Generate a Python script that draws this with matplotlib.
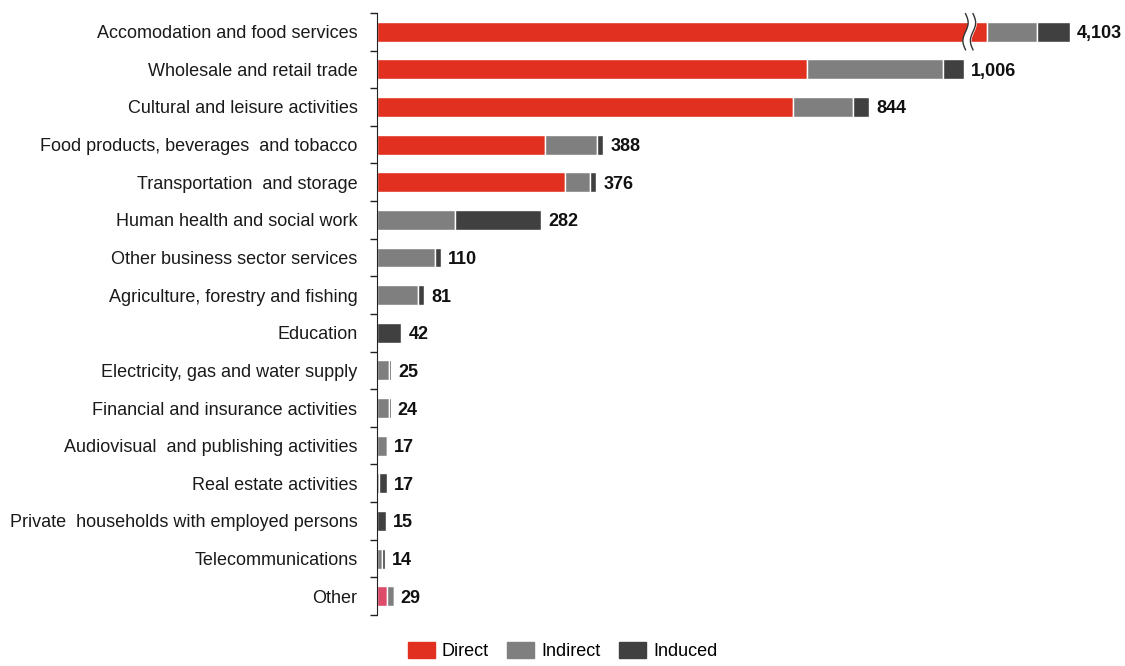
import numpy as np
import matplotlib
matplotlib.use("Agg")
import matplotlib.pyplot as plt
from matplotlib.patches import Patch
import matplotlib.transforms as mtransforms

plt.rcParams['font.family'] = ['Liberation Sans', 'DejaVu Sans']

sectors = ["Accomodation and food services", "Wholesale and retail trade",
           "Cultural and leisure activities", "Food products, beverages  and tobacco",
           "Transportation  and storage", "Human health and social work",
           "Other business sector services", "Agriculture, forestry and fishing",
           "Education", "Electricity, gas and water supply",
           "Financial and insurance activities", "Audiovisual  and publishing activities",
           "Real estate activities", "Private  households with employed persons",
           "Telecommunications", "Other"]
direct = [3960, 737, 713, 288, 322, 0, 0, 0, 0, 0, 0, 0, 0, 0, 0, 18]
indirect = [86, 233, 103, 89, 43, 134, 99, 70, 0, 21, 20, 17, 3, 0, 8, 11]
induced = [57, 36, 28, 11, 11, 148, 11, 11, 42, 4, 4, 0, 14, 15, 6, 0]

RED = '#e1301f'
PINK = '#de4a6a'
GRAY = '#7f7f7f'
DARK = '#404040'

# cut out the empty stretch of the axis so the first bar fits
gap_lo, gap_hi, squeeze = 1010.0, 3928.0, 1e-3
cut = (gap_hi - gap_lo) * (1 - squeeze)

def fwd(x):
    x = np.asarray(x, dtype=float)
    return np.where(x < gap_lo, x,
                    np.where(x > gap_hi, x - cut, gap_lo + (x - gap_lo) * squeeze))

def inv(x):
    x = np.asarray(x, dtype=float)
    top = gap_lo + (gap_hi - gap_lo) * squeeze
    return np.where(x < gap_lo, x,
                    np.where(x > top, x + cut, gap_lo + (x - gap_lo) / squeeze))

direct = np.array(direct)
indirect = np.array(indirect)
induced = np.array(induced)
totals = direct + indirect + induced
y = np.arange(len(sectors))

fig = plt.figure(figsize=(11.25, 6.66), dpi=100)
ax = fig.add_axes([0.335, 0.0766, 0.665, 0.904])
ax.set_xscale('function', functions=(fwd, inv))

dcolors = [RED] * (len(sectors) - 1) + [PINK]
kw = dict(height=0.53, edgecolor='white', linewidth=1)
ax.barh(y, direct, color=dcolors, **kw)
ax.barh(y, indirect, left=direct, color=GRAY, **kw)
ax.barh(y, induced, left=direct + indirect, color=DARK, **kw)

for i, t in enumerate(totals):
    ax.annotate(f"{t:,}", xy=(t, i), xytext=(5, 0), textcoords='offset points',
                va='center_baseline', ha='left', fontsize=13, fontweight='bold',
                color='#111111')

ax.set_xlim(0, inv(1282.0))
ax.set_ylim(len(sectors) - 0.5, -0.5)

# break marks on the first bar
xa = float(fwd(gap_lo) / 1282.0)
tr = mtransforms.blended_transform_factory(ax.transAxes, ax.transData)
t = np.linspace(0, 1, 60)
yy = -0.48 + 0.96 * t
w = 0.0035 * np.sin(2 * np.pi * t)
x1 = xa - 0.001 + w
x2 = xa + 0.009 + w
ax.fill_betweenx(yy[8:-8], x1[8:-8], x2[8:-8], color='white', transform=tr, zorder=3)
ax.plot(x1, yy, color='#333333', lw=1, transform=tr, zorder=4, clip_on=False)
ax.plot(x2, yy, color='#333333', lw=1, transform=tr, zorder=4, clip_on=False)

ax.set_yticks(y)
ax.set_yticklabels(sectors, fontsize=13, color='#1a1a1a')
ax.set_yticks(np.arange(len(sectors) + 1) - 0.5, minor=True)
ax.tick_params(axis='y', which='major', length=0, pad=14)
ax.tick_params(axis='y', which='minor', length=5, width=1, color='#222222')
ax.set_xticks([])
ax.xaxis.set_minor_locator(matplotlib.ticker.NullLocator())
for s in ['top', 'right', 'bottom']:
    ax.spines[s].set_visible(False)
ax.spines['left'].set_color('#222222')

handles = [Patch(color=RED, label='Direct'), Patch(color=GRAY, label='Indirect'),
           Patch(color=DARK, label='Induced')]
fig.legend(handles=handles, loc='lower center', bbox_to_anchor=(0.5, -0.016), ncol=3,
           frameon=False, fontsize=13, handlelength=1.5, handleheight=1.0,
           handletextpad=0.4, columnspacing=1.0)

fig.savefig('out.png', dpi=100)
